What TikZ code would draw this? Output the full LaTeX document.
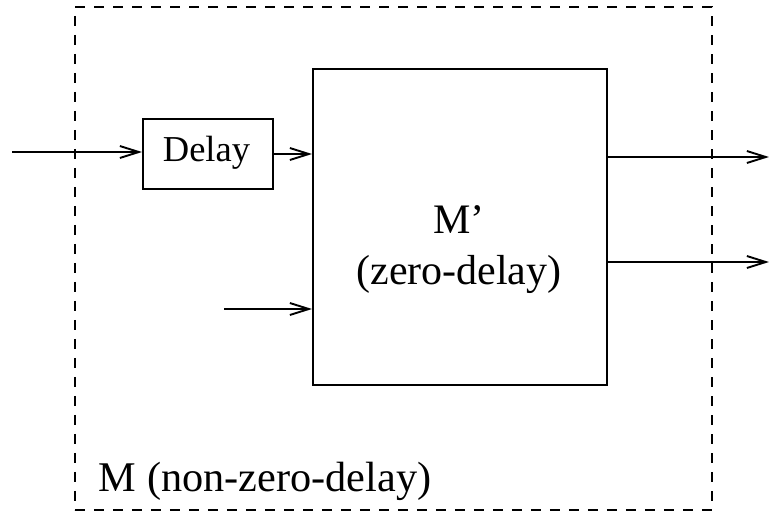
\documentclass[tikz,border=0pt]{standalone}
\usepackage{fontspec}
\setmainfont{Liberation Serif}
\usetikzlibrary{arrows.meta}
\begin{document}
\begin{tikzpicture}[x=1pt,y=-1pt,
  line width=1.9pt,
  arr/.style={-{Straight Barb[length=19pt,width=12pt,line width=1.9pt]}},
  blk/.style={draw,inner sep=0pt,anchor=north west},
  dashbox/.style={draw,dash pattern=on 10pt off 9pt,inner sep=0pt,anchor=north west}]
\useasboundingbox (0,0) rectangle (769,512);
\node[dashbox,minimum width=637pt,minimum height=503pt] (outer) at (74,6) {};
\node[blk,minimum width=294pt,minimum height=316pt] (mp) at (312,68) {};
\node[blk,minimum width=130pt,minimum height=70pt] (delay) at (142,118) {};
\node[font=\fontsize{36.5}{40}\selectfont] (dtext) at (206.5,153) {Delay};
\node[font=\fontsize{42}{51}\selectfont,align=center] (mtext) at (459,250) {M’\\(zero-delay)};
\node[font=\fontsize{42.3}{50}\selectfont,anchor=base west,inner sep=0pt] (otext) at (98,491) {M (non-zero-delay)};
\coordinate (in1) at (12,152);
\coordinate (in2) at (224,309);
\coordinate (out1) at (769,157);
\coordinate (out2) at (769,262);
\draw[arr] (in1) -- (delay.west |- in1);
\draw[arr] (delay.east |- 0,154) -- (mp.west |- 0,154);
\draw[arr] (in2) -- (mp.west |- in2);
\draw[arr] (mp.east |- out1) -- (out1);
\draw[arr] (mp.east |- out2) -- (out2);
\end{tikzpicture}
\end{document}
